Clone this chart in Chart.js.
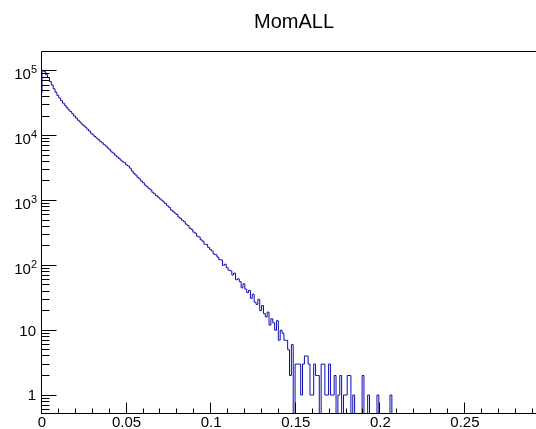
<!DOCTYPE html>
<html><head><meta charset="utf-8">
<script src="https://cdn.jsdelivr.net/npm/chart.js@4/dist/chart.umd.min.js"></script>
<style>html,body{margin:0;padding:0;background:#fff}#wrap{width:536px;height:429px;position:relative}</style>
</head><body><div id="wrap"><canvas id="c" width="536" height="429"></canvas></div>
<script>
const chartTitle = "MomALL";
const binWidth = 0.0011;
const counts = [
46000,100000,97000,87000,78500,68500,60500,52800,46900,41800,
38100,34600,31700,29400,27000,25000,23500,21800,20100,18700,
17300,16300,15100,14300,13500,12600,11800,10900,10300,9700,
9150,8650,8150,7750,7250,6900,6450,6050,5600,5380,
5000,4700,4450,4190,3960,3820,3540,3400,3150,2850,
2620,2470,2280,2150,1990,1880,1730,1630,1540,1460,
1340,1270,1190,1130,1060,1010,950,895,825,785,
715,680,640,610,555,530,495,472,432,412,
375,360,326,314,283,274,248,236,212,209,
190,176,166,149,146,134,122,121,100,104,
92,84,82,71,76,60,62,56,45,52,
43,38,41,31,36,27,25,30,20,24,
18,16,19,12,15,13,10,14,7,10,
9,7,7,5,2,6,0,3,3,3,
1,3,4,4,3,1,1,3,2,2,
0,3,3,1,1,3,1,1,2,0,
1,2,0,1,1,2,2,0,1,0,
0,0,0,2,0,0,1,0,0,0,
0,1,0,0,0,0,0,0,1
];
const xTickValues = [0, 0.05, 0.1, 0.15, 0.2, 0.25];
const xTickLabels = ["0", "0.05", "0.1", "0.15", "0.2", "0.25"];
const yTickValues = [1, 10, 100, 1000, 10000, 100000];
const yTickBase = ["1", "10", "10", "10", "10", "10"];
const yTickExp = ["", "", "2", "3", "4", "5"];
const xRange = [0, 0.292];
const yRange = [0.51, 1.95e5];

const ZERO_FLOOR = 0.05; // empty bins fall below the axis and are clipped
const points = counts.map((c, i) => ({x: i * binWidth, y: c > 0 ? c : ZERO_FLOOR}));
points.push({x: counts.length * binWidth, y: ZERO_FLOOR});

const FONT = '"Liberation Sans", Arial, Helvetica, sans-serif';

const framePlugin = {
  id: 'rootFrame',
  afterDatasetsDraw(chart) {
    const {ctx, chartArea: a, scales: {x, y}} = chart;
    ctx.save();
    ctx.strokeStyle = '#000';
    ctx.lineWidth = 1;
    const L = Math.round(a.left) - 0.5;
    const B = Math.round(a.bottom) - 0.5;
    const T = Math.round(a.top) - 0.5;
    ctx.beginPath();
    ctx.moveTo(L, T); ctx.lineTo(a.right, T);
    ctx.moveTo(L, T); ctx.lineTo(L, B + 0.5);
    ctx.moveTo(L, B); ctx.lineTo(a.right, B);
    for (let k = 1; k * 0.01 <= x.max + 1e-9; k++) {
      const v = k * 0.01;
      const px = Math.round(x.getPixelForValue(v)) - 0.5;
      const len = (k % 5 === 0) ? 11 : 5;
      ctx.moveTo(px, B); ctx.lineTo(px, B - len);
    }
    for (let d = -1; d <= 5; d++) {
      for (let m = 1; m <= 9; m++) {
        const v = m * Math.pow(10, d);
        if (v < y.min || v > y.max) continue;
        const py = Math.floor(y.getPixelForValue(v)) + 0.5;
        const len = (m === 1) ? 15 : 8;
        ctx.moveTo(L, py); ctx.lineTo(L + len, py);
      }
    }
    ctx.stroke();
    ctx.fillStyle = '#000';
    const rightEdge = 37;
    yTickValues.forEach((v, i) => {
      const py = y.getPixelForValue(v);
      ctx.textAlign = 'right';
      ctx.textBaseline = 'alphabetic';
      if (yTickExp[i]) {
        ctx.font = '11px ' + FONT;
        const ew = ctx.measureText(yTickExp[i]).width;
        const baseY = py + 3 + 5.4;
        ctx.fillText(yTickExp[i], rightEdge, baseY - 6);
        ctx.font = '15px ' + FONT;
        ctx.fillText(yTickBase[i], rightEdge - ew, baseY);
      } else {
        ctx.font = '15px ' + FONT;
        ctx.fillText(yTickBase[i], rightEdge - 1, py + 5.4);
      }
    });
    ctx.font = '20px ' + FONT;
    ctx.textAlign = 'center';
    ctx.textBaseline = 'alphabetic';
    ctx.fillText(chartTitle, 294, 28);
    ctx.restore();
  }
};

new Chart(document.getElementById('c'), {
  type: 'line',
  data: {
    datasets: [{
      data: points,
      stepped: 'after',
      borderColor: '#0c0cb0',
      borderWidth: 1,
      pointRadius: 0,
      fill: false,
      tension: 0
    }]
  },
  options: {
    responsive: false,
    animation: false,
    events: [],
    devicePixelRatio: 1,
    layout: {padding: {top: 52, right: 0, left: 0, bottom: 0}},
    plugins: {legend: {display: false}, tooltip: {enabled: false}, title: {display: false}},
    scales: {
      x: {
        type: 'linear',
        min: xRange[0], max: xRange[1],
        grid: {display: false, drawTicks: false},
        border: {display: false},
        afterFit(s) { s.height = 15; },
        afterBuildTicks(s) { s.ticks = xTickValues.map(v => ({value: v})); },
        ticks: {
          autoSkip: false, maxRotation: 0, padding: 0, color: '#000',
          font: {family: FONT, size: 15},
          callback: (v, i) => xTickLabels[i]
        }
      },
      y: {
        type: 'logarithmic',
        min: yRange[0], max: yRange[1],
        grid: {display: false, drawTicks: false},
        border: {display: false},
        afterFit(s) { s.width = 42; },
        afterBuildTicks(s) { s.ticks = yTickValues.map(v => ({value: v})); },
        ticks: {display: false}
      }
    }
  },
  plugins: [framePlugin]
});
</script></body></html>
